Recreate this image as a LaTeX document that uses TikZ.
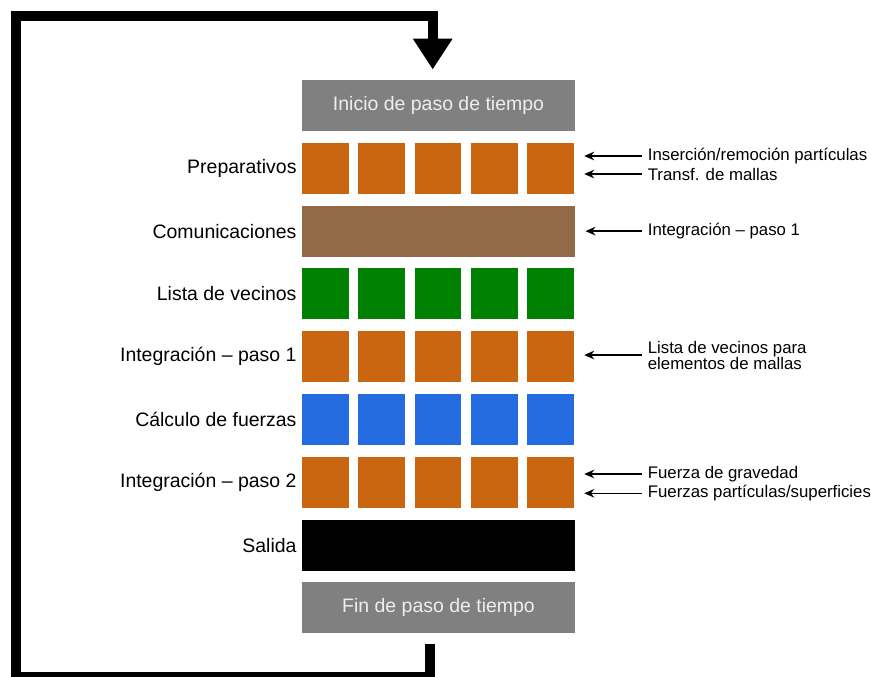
\documentclass[tikz,border=0pt]{standalone}
\usepackage{fontspec}
\setmainfont{Liberation Sans}
\usetikzlibrary{arrows.meta,calc}

\definecolor{cOrange}{HTML}{C9660F}
\definecolor{cBrown}{HTML}{936A48}
\definecolor{cGreen}{HTML}{008000}
\definecolor{cBlue}{HTML}{236BDE}
\definecolor{cGray}{HTML}{808080}
\definecolor{cPale}{HTML}{EEEEEE}

\tikzset{every picture/.style={line width=0.75pt}}
\tikzset{
  cell/.style={fill=#1, minimum width=34.9pt, minimum height=38.25pt, inner sep=0pt},
  bar/.style={fill=#1, minimum width=204.75pt, minimum height=38.25pt, inner sep=0pt,
    font=\fontsize{14.6}{17}\selectfont},
  rowlbl/.style={anchor=east, inner sep=0pt, font=\fontsize{14.6}{17}\selectfont},
  notelbl/.style={anchor=west, inner xsep=4pt, inner ysep=0pt, align=left,
    font=\fontsize{12.6}{12}\selectfont},
  note/.style={-{Stealth[length=7.5pt,width=6.5pt]}, line width=1pt, shorten >=7.5pt},
  loopline/.style={line width=7.5pt, -{Triangle[length=23.25pt,width=28.3pt]}}
}

\begin{document}
\begin{tikzpicture}[x=0.75pt,y=0.75pt,yscale=-1,xscale=1]
	\useasboundingbox (0,0) rectangle (871,676);

	%Shape: Rectangle [bars]
	\node[bar=cGray, text=cPale] (inicio) at (438.5,105.5) {Inicio de paso de tiempo};
	\node[bar=cBrown] (comu) at (438.5,231.1) {};
	\node[bar=black] (salida) at (438.5,545.1) {};
	\node[bar=cGray, text=cPale] (fin) at (438.5,607.9) {Fin de paso de tiempo};

	%Shape: Square [cells]
	\foreach \row/\y/\col in {prep/168.3/cOrange, vecinos/293.9/cGreen, integA/356.7/cOrange, fuerzas/419.5/cBlue, integB/482.3/cOrange}{
		\foreach \i in {1,...,5}
			\node[cell=\col] (\row-\i) at ({269.25+56.25*\i},\y) {};
	}

	% Text Node
	\node[rowlbl] (lprep) at (297,168.3) {Preparativos};
	\node[rowlbl] (lcomu) at (297,231.1) {Comunicaciones};
	\node[rowlbl] (lvecinos) at (297,293.9) {Lista de vecinos};
	\node[rowlbl] (lintegA) at (297,356.7) {Integración – paso 1};
	\node[rowlbl] (lfuerzas) at (297,419.5) {Cálculo de fuerzas};
	\node[rowlbl] (lintegB) at (297,482.3) {Integración – paso 2};
	\node[rowlbl] (lsalida) at (297,545.1) {Salida};

	% Text Node
	\node[notelbl] (n1) at (642,156) {Inserción/remoción partículas};
	\node[notelbl] (n2) at (642,174) {Transf. de mallas};
	\node[notelbl] (n3) at (642,231.1) {Integración – paso 1};
	\node[notelbl] (n4) at (642,355) {Lista de vecinos para\\elementos de mallas};
	\node[notelbl] (n5) at (642,474) {Fuerza de gravedad};
	\node[notelbl] (n6) at (642,493.3) {Fuerzas partículas/superficies};

	%Straight Lines [notes]
	\foreach \n/\t in {n1/prep-5, n2/prep-5, n3/comu, n4/integA-5, n5/integB-5, n6/integB-5}
		\draw[note] (\n.west) -- (\n.west -| \t.east);

	%Straight Lines [loop]
	\draw[loopline] ($(fin.south)+(-8.8,10.4)$) |- (15.5,677) |- ($(inicio.north)+(-5.8,-63.3)$) -- ($(inicio.north)+(-5.8,-10)$);

\end{tikzpicture}
\end{document}
